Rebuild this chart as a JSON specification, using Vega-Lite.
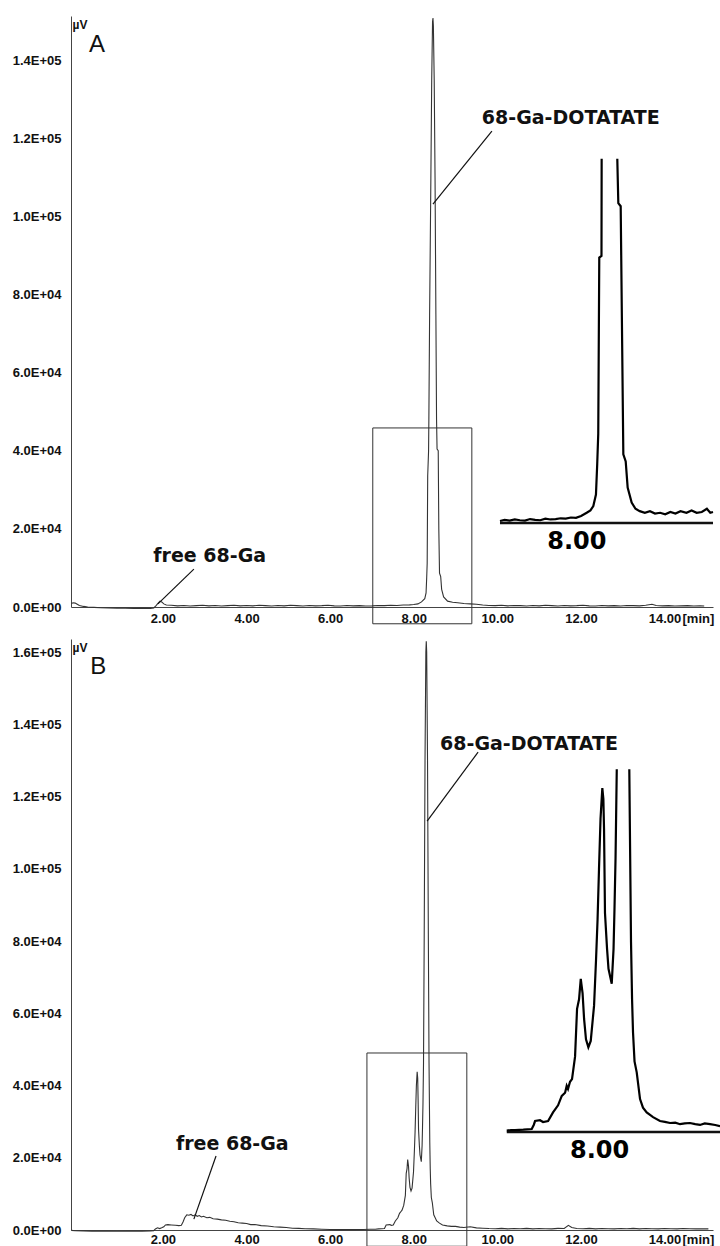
{
  "$schema": "https://vega.github.io/schema/vega-lite/v6.json",
  "padding": {"left": 12, "top": 15, "right": 0, "bottom": 0},
  "background": "white",
  "config": {"view": {"stroke": null}},
  "datasets": {
    "mainA": [
      {"t":-0.19,"v":900},{"t":-0.15,"v":1100},{"t":-0.1,"v":1000},{"t":-0.05,"v":700},{"t":0.0,"v":400},{"t":0.1,"v":150},{"t":0.2,"v":0},{"t":0.35,"v":-100},{"t":0.5,"v":-200},{"t":0.7,"v":-250},{"t":0.9,"v":-300},{"t":1.1,"v":-300},{"t":1.3,"v":-350},{"t":1.5,"v":-300},{"t":1.7,"v":-350},{"t":1.78,"v":-250},{"t":1.83,"v":300},{"t":1.88,"v":900},{"t":1.93,"v":1500},{"t":1.97,"v":1300},{"t":2.02,"v":800},{"t":2.08,"v":500},{"t":2.2,"v":450},{"t":2.35,"v":300},{"t":2.5,"v":400},{"t":2.65,"v":250},{"t":2.8,"v":350},{"t":2.95,"v":450},{"t":3.1,"v":300},{"t":3.25,"v":400},{"t":3.4,"v":250},{"t":3.55,"v":350},{"t":3.7,"v":450},{"t":3.85,"v":300},{"t":4.0,"v":400},{"t":4.15,"v":300},{"t":4.3,"v":450},{"t":4.45,"v":350},{"t":4.6,"v":250},{"t":4.75,"v":400},{"t":4.9,"v":300},{"t":5.05,"v":450},{"t":5.2,"v":350},{"t":5.35,"v":250},{"t":5.5,"v":400},{"t":5.65,"v":300},{"t":5.8,"v":350},{"t":5.95,"v":450},{"t":6.1,"v":300},{"t":6.25,"v":250},{"t":6.4,"v":400},{"t":6.55,"v":300},{"t":6.7,"v":350},{"t":6.85,"v":250},{"t":7.0,"v":300},{"t":7.15,"v":400},{"t":7.3,"v":350},{"t":7.45,"v":450},{"t":7.6,"v":400},{"t":7.75,"v":500},{"t":7.9,"v":550},{"t":8.0,"v":650},{"t":8.1,"v":800},{"t":8.186,"v":1300},{"t":8.264,"v":2150},{"t":8.295,"v":3600},{"t":8.31,"v":7500},{"t":8.322,"v":11300},{"t":8.334,"v":33600},{"t":8.355,"v":40000},{"t":8.362,"v":48000},{"t":8.38,"v":75000},{"t":8.41,"v":110000},{"t":8.43,"v":135000},{"t":8.45,"v":150000},{"t":8.46,"v":151000},{"t":8.47,"v":149000},{"t":8.49,"v":135000},{"t":8.51,"v":110000},{"t":8.53,"v":75000},{"t":8.546,"v":48000},{"t":8.558,"v":40500},{"t":8.586,"v":40100},{"t":8.6,"v":20000},{"t":8.617,"v":8700},{"t":8.645,"v":7800},{"t":8.668,"v":4500},{"t":8.715,"v":2600},{"t":8.81,"v":1500},{"t":8.93,"v":1200},{"t":9.05,"v":1100},{"t":9.2,"v":900},{"t":9.35,"v":800},{"t":9.5,"v":700},{"t":9.65,"v":500},{"t":9.8,"v":400},{"t":9.95,"v":350},{"t":10.1,"v":450},{"t":10.25,"v":300},{"t":10.4,"v":400},{"t":10.55,"v":350},{"t":10.7,"v":250},{"t":10.85,"v":400},{"t":11.0,"v":300},{"t":11.15,"v":450},{"t":11.3,"v":350},{"t":11.45,"v":250},{"t":11.6,"v":400},{"t":11.75,"v":300},{"t":11.9,"v":350},{"t":12.05,"v":450},{"t":12.2,"v":300},{"t":12.35,"v":250},{"t":12.5,"v":400},{"t":12.65,"v":300},{"t":12.8,"v":350},{"t":12.95,"v":250},{"t":13.1,"v":400},{"t":13.25,"v":350},{"t":13.4,"v":300},{"t":13.55,"v":450},{"t":13.7,"v":700},{"t":13.8,"v":400},{"t":13.95,"v":300},{"t":14.1,"v":350},{"t":14.25,"v":250},{"t":14.4,"v":300},{"t":14.55,"v":350},{"t":14.7,"v":250},{"t":14.85,"v":300},{"t":14.95,"v":250}
    ],
    "insetA": [
      {"t":7.166,"v":250},{"t":7.22,"v":400},{"t":7.28,"v":300},{"t":7.34,"v":450},{"t":7.4,"v":350},{"t":7.46,"v":300},{"t":7.52,"v":500},{"t":7.58,"v":400},{"t":7.64,"v":350},{"t":7.7,"v":550},{"t":7.76,"v":450},{"t":7.82,"v":500},{"t":7.88,"v":600},{"t":7.94,"v":550},{"t":8.0,"v":700},{"t":8.06,"v":650},{"t":8.12,"v":900},{"t":8.186,"v":1300},{"t":8.23,"v":1600},{"t":8.264,"v":2150},{"t":8.295,"v":3600},{"t":8.31,"v":7500},{"t":8.322,"v":11300},{"t":8.334,"v":33600},{"t":8.36,"v":33800},{"t":8.362,"v":46100},{"t":8.45,"v":null},{"t":8.546,"v":46100},{"t":8.558,"v":40500},{"t":8.586,"v":40100},{"t":8.617,"v":8700},{"t":8.645,"v":7800},{"t":8.668,"v":4500},{"t":8.715,"v":2600},{"t":8.76,"v":1800},{"t":8.81,"v":1500},{"t":8.87,"v":1300},{"t":8.93,"v":1500},{"t":8.99,"v":1200},{"t":9.05,"v":1300},{"t":9.11,"v":1100},{"t":9.17,"v":1400},{"t":9.23,"v":1200},{"t":9.29,"v":1500},{"t":9.36,"v":1300},{"t":9.42,"v":1600},{"t":9.48,"v":1300},{"t":9.54,"v":1400},{"t":9.6,"v":1800},{"t":9.64,"v":1300},{"t":9.672,"v":1400}
    ],
    "boxA": [{"t":7.02,"t2":9.39,"v":-4300,"v2":45900}],
    "leadA": [{"t":9.87,"v":122000,"t2":8.46,"v2":103300},{"t":2.74,"v":9700,"t2":1.88,"v2":800}],
    "labA": [{"t":9.63,"v":125400,"text":"68-Ga-DOTATATE"},{"t":1.77,"v":13100,"text":"free 68-Ga"}],
    "letterA": [{"t":0.23,"v":144100,"text":"A"}],
    "iaxA": [{"t":7.166,"t2":9.672,"v":0}],
    "ilabA": [{"t":8.0,"v":0,"text":"8.00"}],
    "mainB": [
      {"t":-0.19,"v":-100},{"t":-0.1,"v":-200},{"t":0.1,"v":-250},{"t":0.3,"v":-300},{"t":0.6,"v":-300},{"t":0.9,"v":-350},{"t":1.2,"v":-300},{"t":1.5,"v":-300},{"t":1.7,"v":-250},{"t":1.78,"v":-200},{"t":1.82,"v":300},{"t":1.87,"v":600},{"t":1.92,"v":400},{"t":1.97,"v":600},{"t":2.02,"v":900},{"t":2.06,"v":1400},{"t":2.12,"v":1500},{"t":2.2,"v":1400},{"t":2.3,"v":1300},{"t":2.38,"v":1200},{"t":2.44,"v":1300},{"t":2.48,"v":2200},{"t":2.52,"v":3400},{"t":2.57,"v":4200},{"t":2.62,"v":4100},{"t":2.67,"v":4300},{"t":2.72,"v":3900},{"t":2.77,"v":4200},{"t":2.82,"v":3800},{"t":2.87,"v":4000},{"t":2.92,"v":3600},{"t":2.97,"v":3800},{"t":3.05,"v":3400},{"t":3.12,"v":3500},{"t":3.2,"v":3100},{"t":3.3,"v":3000},{"t":3.4,"v":2800},{"t":3.5,"v":2700},{"t":3.6,"v":2400},{"t":3.7,"v":2300},{"t":3.8,"v":2000},{"t":3.9,"v":1900},{"t":4.0,"v":1800},{"t":4.1,"v":1500},{"t":4.2,"v":1500},{"t":4.35,"v":1200},{"t":4.5,"v":1100},{"t":4.65,"v":900},{"t":4.8,"v":800},{"t":4.95,"v":700},{"t":5.1,"v":500},{"t":5.25,"v":450},{"t":5.4,"v":350},{"t":5.6,"v":300},{"t":5.8,"v":200},{"t":6.0,"v":150},{"t":6.2,"v":100},{"t":6.4,"v":150},{"t":6.6,"v":100},{"t":6.8,"v":150},{"t":6.95,"v":200},{"t":7.08,"v":200},{"t":7.16,"v":300},{"t":7.3,"v":400},{"t":7.34,"v":1400},{"t":7.43,"v":1500},{"t":7.46,"v":1300},{"t":7.51,"v":1400},{"t":7.56,"v":2500},{"t":7.62,"v":3400},{"t":7.66,"v":4600},{"t":7.7,"v":5200},{"t":7.72,"v":5500},{"t":7.76,"v":6800},{"t":7.8,"v":9600},{"t":7.82,"v":15700},{"t":7.84,"v":17000},{"t":7.855,"v":19500},{"t":7.875,"v":17700},{"t":7.89,"v":14400},{"t":7.91,"v":11800},{"t":7.935,"v":10800},{"t":7.96,"v":11600},{"t":7.995,"v":16100},{"t":8.016,"v":22000},{"t":8.032,"v":27100},{"t":8.047,"v":33500},{"t":8.063,"v":39900},{"t":8.082,"v":43800},{"t":8.095,"v":42000},{"t":8.105,"v":36000},{"t":8.115,"v":27900},{"t":8.135,"v":23300},{"t":8.15,"v":20800},{"t":8.181,"v":18900},{"t":8.2,"v":23300},{"t":8.21,"v":28400},{"t":8.221,"v":34800},{"t":8.234,"v":46200},{"t":8.25,"v":80000},{"t":8.27,"v":130000},{"t":8.29,"v":160000},{"t":8.3,"v":163000},{"t":8.31,"v":160000},{"t":8.33,"v":130000},{"t":8.35,"v":80000},{"t":8.366,"v":46200},{"t":8.384,"v":24200},{"t":8.395,"v":16900},{"t":8.405,"v":12700},{"t":8.421,"v":9000},{"t":8.444,"v":7600},{"t":8.479,"v":4200},{"t":8.549,"v":2500},{"t":8.616,"v":1900},{"t":8.689,"v":1400},{"t":8.8,"v":1150},{"t":8.9,"v":1000},{"t":9.0,"v":1000},{"t":9.1,"v":800},{"t":9.2,"v":700},{"t":9.35,"v":900},{"t":9.5,"v":600},{"t":9.65,"v":500},{"t":9.8,"v":400},{"t":9.95,"v":350},{"t":10.1,"v":450},{"t":10.25,"v":300},{"t":10.4,"v":400},{"t":10.55,"v":350},{"t":10.7,"v":450},{"t":10.85,"v":300},{"t":11.0,"v":400},{"t":11.15,"v":350},{"t":11.3,"v":300},{"t":11.45,"v":450},{"t":11.6,"v":400},{"t":11.7,"v":1300},{"t":11.78,"v":700},{"t":11.9,"v":400},{"t":12.05,"v":350},{"t":12.2,"v":450},{"t":12.35,"v":300},{"t":12.5,"v":400},{"t":12.65,"v":350},{"t":12.8,"v":300},{"t":12.95,"v":400},{"t":13.1,"v":350},{"t":13.25,"v":450},{"t":13.4,"v":300},{"t":13.55,"v":400},{"t":13.7,"v":350},{"t":13.85,"v":300},{"t":14.0,"v":400},{"t":14.15,"v":350},{"t":14.3,"v":300},{"t":14.45,"v":400},{"t":14.6,"v":350},{"t":14.75,"v":300},{"t":14.9,"v":350},{"t":15.05,"v":300}
    ],
    "insetB": [
      {"t":7.076,"v":170},{"t":7.12,"v":250},{"t":7.163,"v":250},{"t":7.25,"v":300},{"t":7.339,"v":380},{"t":7.36,"v":900},{"t":7.374,"v":1400},{"t":7.426,"v":1500},{"t":7.458,"v":1270},{"t":7.511,"v":1400},{"t":7.563,"v":2500},{"t":7.616,"v":3400},{"t":7.655,"v":4600},{"t":7.69,"v":5000},{"t":7.707,"v":5900},{"t":7.721,"v":5500},{"t":7.742,"v":6400},{"t":7.763,"v":6750},{"t":7.795,"v":9600},{"t":7.816,"v":15700},{"t":7.837,"v":16900},{"t":7.855,"v":19500},{"t":7.874,"v":17700},{"t":7.89,"v":14400},{"t":7.91,"v":11800},{"t":7.935,"v":10800},{"t":7.96,"v":11600},{"t":7.995,"v":16100},{"t":8.016,"v":22000},{"t":8.032,"v":27100},{"t":8.047,"v":33500},{"t":8.063,"v":39900},{"t":8.082,"v":43800},{"t":8.093,"v":42400},{"t":8.1,"v":38600},{"t":8.11,"v":27900},{"t":8.132,"v":23300},{"t":8.147,"v":20800},{"t":8.181,"v":18900},{"t":8.2,"v":23300},{"t":8.21,"v":28400},{"t":8.221,"v":34800},{"t":8.234,"v":46200},{"t":8.3,"v":null},{"t":8.366,"v":46200},{"t":8.384,"v":24200},{"t":8.395,"v":16900},{"t":8.405,"v":12700},{"t":8.421,"v":9000},{"t":8.444,"v":7600},{"t":8.479,"v":4200},{"t":8.51,"v":3100},{"t":8.549,"v":2500},{"t":8.616,"v":1900},{"t":8.689,"v":1400},{"t":8.74,"v":1300},{"t":8.795,"v":1150},{"t":8.85,"v":1200},{"t":8.9,"v":1000},{"t":8.95,"v":1100},{"t":9.005,"v":1150},{"t":9.06,"v":1000},{"t":9.11,"v":900},{"t":9.16,"v":1100},{"t":9.216,"v":1000},{"t":9.27,"v":900},{"t":9.321,"v":760}
    ],
    "boxB": [{"t":6.88,"t2":9.27,"v":-4500,"v2":49000}],
    "leadB": [{"t":9.54,"v":132300,"t2":8.32,"v2":113200},{"t":3.27,"v":20500,"t2":2.74,"v2":3000}],
    "labB": [{"t":8.63,"v":134500,"text":"68-Ga-DOTATATE"},{"t":2.31,"v":23800,"text":"free 68-Ga"}],
    "letterB": [{"t":0.26,"v":155800,"text":"B"}],
    "iaxB": [{"t":7.076,"t2":9.321,"v":0}],
    "ilabB": [{"t":8.0,"v":0,"text":"8.00"}]
  },
  "vconcat": [
    {
      "width": 642,
      "height": 591,
      "layer": [
        {
          "encoding": {
            "x": {"field": "t", "type": "quantitative", "scale": {"domain": [-0.2, 15.16], "nice": false, "zero": false},
              "axis": {"values": [2,4,6,8,10,12,14], "format": ".2f", "ticks": false, "grid": false, "domainColor": "#444", "labelFont": "Liberation Sans", "labelFontWeight": "bold", "labelFontSize": 13, "labelColor": "#111", "labelPadding": 5, "title": "[min]", "titleX": 611, "titleY": 11, "titleAlign": "left", "titleBaseline": "middle", "titleFont": "Liberation Sans", "titleFontWeight": "bold", "titleFontSize": 13, "titleColor": "#111"}},
            "y": {"field": "v", "type": "quantitative", "scale": {"domain": [0, 151500], "nice": false, "zero": false},
              "axis": {"values": [0,20000,40000,60000,80000,100000,120000,140000], "labelExpr": "replace(upper(format(datum.value, '.1e')), 'E+', 'E+0')", "ticks": false, "grid": false, "domainColor": "#444", "labelFont": "Liberation Sans", "labelFontWeight": "bold", "labelFontSize": 13, "labelColor": "#111", "labelPadding": 10, "title": "µV", "titleAngle": 0, "titleAlign": "left", "titleBaseline": "top", "titleX": 1, "titleY": 3, "titleFont": "Liberation Sans", "titleFontWeight": "bold", "titleFontSize": 12, "titleColor": "#111"}}
          },
          "layer": [
            {"data": {"name": "boxA"}, "mark": {"type": "rect", "filled": false, "color": "#333", "strokeWidth": 1}, "encoding": {"x2": {"field": "t2"}, "y2": {"field": "v2"}}},
            {"data": {"name": "mainA"}, "mark": {"type": "line", "color": "#333", "strokeWidth": 1.1}, "encoding": {}},
            {"data": {"name": "leadA"}, "mark": {"type": "rule", "color": "#111", "strokeWidth": 1.2}, "encoding": {"x2": {"field": "t2"}, "y2": {"field": "v2"}}},
            {"data": {"name": "labA"}, "mark": {"type": "text", "align": "left", "baseline": "middle", "font": "DejaVu Sans", "fontWeight": "bold", "fontSize": 19, "color": "#111"}, "encoding": {"text": {"field": "text"}}},
            {"data": {"name": "letterA"}, "mark": {"type": "text", "align": "left", "baseline": "middle", "font": "Liberation Sans", "fontSize": 24, "color": "#111"}, "encoding": {"text": {"field": "text"}}}
          ]
        },
        {
          "encoding": {
            "x": {"field": "t", "type": "quantitative", "scale": {"domain": [2.119, 9.672], "nice": false, "zero": false}, "axis": null},
            "y": {"field": "v", "type": "quantitative", "scale": {"domain": [-10630, 64180], "nice": false, "zero": false}, "axis": null}
          },
          "layer": [
            {"data": {"name": "iaxA"}, "mark": {"type": "rule", "color": "#111", "strokeWidth": 2.5}, "encoding": {"x2": {"field": "t2"}}},
            {"data": {"name": "insetA"}, "mark": {"type": "line", "color": "#000", "strokeWidth": 2.2}, "encoding": {}},
            {"data": {"name": "ilabA"}, "mark": {"type": "text", "align": "center", "baseline": "top", "dy": 7, "dx": 6, "font": "DejaVu Sans", "fontWeight": "bold", "fontSize": 24, "color": "#000"}, "encoding": {"text": {"field": "text"}}}
          ]
        }
      ],
      "resolve": {"scale": {"x": "independent", "y": "independent"}}
    },
    {
      "width": 642,
      "height": 591,
      "layer": [
        {
          "encoding": {
            "x": {"field": "t", "type": "quantitative", "scale": {"domain": [-0.2, 15.16], "nice": false, "zero": false},
              "axis": {"values": [2,4,6,8,10,12,14], "format": ".2f", "ticks": false, "grid": false, "domainColor": "#444", "labelFont": "Liberation Sans", "labelFontWeight": "bold", "labelFontSize": 13, "labelColor": "#111", "labelPadding": 3, "title": "[min]", "titleX": 611, "titleY": 9, "titleAlign": "left", "titleBaseline": "middle", "titleFont": "Liberation Sans", "titleFontWeight": "bold", "titleFontSize": 13, "titleColor": "#111"}},
            "y": {"field": "v", "type": "quantitative", "scale": {"domain": [0, 163600], "nice": false, "zero": false},
              "axis": {"values": [0,20000,40000,60000,80000,100000,120000,140000,160000], "labelExpr": "replace(upper(format(datum.value, '.1e')), 'E+', 'E+0')", "ticks": false, "grid": false, "domainColor": "#444", "labelFont": "Liberation Sans", "labelFontWeight": "bold", "labelFontSize": 13, "labelColor": "#111", "labelPadding": 10, "title": "µV", "titleAngle": 0, "titleAlign": "left", "titleBaseline": "top", "titleX": 1, "titleY": 3, "titleFont": "Liberation Sans", "titleFontWeight": "bold", "titleFontSize": 12, "titleColor": "#111"}}
          },
          "layer": [
            {"data": {"name": "boxB"}, "mark": {"type": "rect", "filled": false, "color": "#333", "strokeWidth": 1}, "encoding": {"x2": {"field": "t2"}, "y2": {"field": "v2"}}},
            {"data": {"name": "mainB"}, "mark": {"type": "line", "color": "#333", "strokeWidth": 1.1}, "encoding": {}},
            {"data": {"name": "leadB"}, "mark": {"type": "rule", "color": "#111", "strokeWidth": 1.2}, "encoding": {"x2": {"field": "t2"}, "y2": {"field": "v2"}}},
            {"data": {"name": "labB"}, "mark": {"type": "text", "align": "left", "baseline": "middle", "font": "DejaVu Sans", "fontWeight": "bold", "fontSize": 19, "color": "#111"}, "encoding": {"text": {"field": "text"}}},
            {"data": {"name": "letterB"}, "mark": {"type": "text", "align": "left", "baseline": "middle", "font": "Liberation Sans", "fontSize": 24, "color": "#111"}, "encoding": {"text": {"field": "text"}}}
          ]
        },
        {
          "encoding": {
            "x": {"field": "t", "type": "quantitative", "scale": {"domain": [2.489, 9.247], "nice": false, "zero": false}, "axis": null},
            "y": {"field": "v", "type": "quantitative", "scale": {"domain": [-12480, 62800], "nice": false, "zero": false}, "axis": null}
          },
          "layer": [
            {"data": {"name": "iaxB"}, "mark": {"type": "rule", "color": "#111", "strokeWidth": 2.5}, "encoding": {"x2": {"field": "t2"}}},
            {"data": {"name": "insetB"}, "mark": {"type": "line", "color": "#000", "strokeWidth": 2.2}, "encoding": {}},
            {"data": {"name": "ilabB"}, "mark": {"type": "text", "align": "center", "baseline": "top", "dy": 7, "dx": 5, "font": "DejaVu Sans", "fontWeight": "bold", "fontSize": 24, "color": "#000"}, "encoding": {"text": {"field": "text"}}}
          ]
        }
      ],
      "resolve": {"scale": {"x": "independent", "y": "independent"}}
    }
  ],
  "spacing": 32,
  "bounds": "flush"
}
